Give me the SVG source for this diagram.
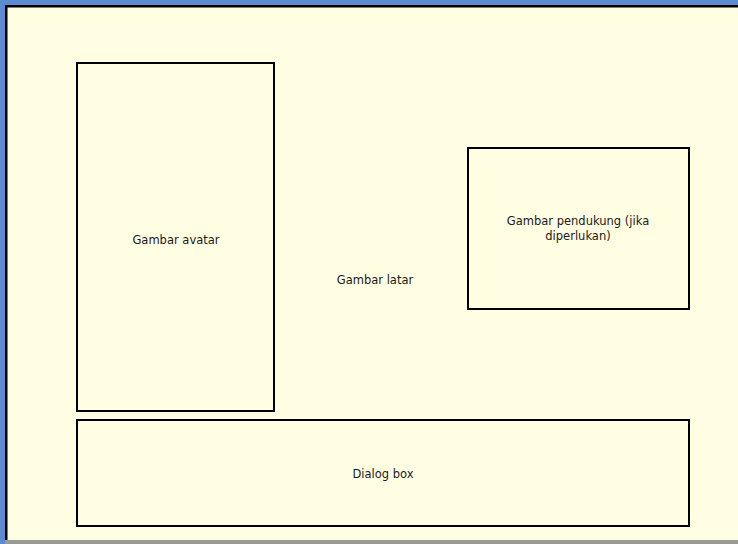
<svg xmlns="http://www.w3.org/2000/svg" width="738" height="544" viewBox="0 0 738 544">
  <style>
    .box { fill: none; stroke: #000; stroke-width: 2; }
    .lbl { font-family: Tahoma, "DejaVu Sans", "Liberation Sans", sans-serif; font-size: 11.5px; fill: #1a1a1a; text-anchor: middle; }
  </style>
  <!-- page background and frame -->
  <rect x="0" y="0" width="738" height="544" fill="#FFFEE3"/>
  <rect x="0" y="0" width="738" height="5" fill="#5B8BD1"/>
  <rect x="0" y="0" width="5" height="544" fill="#5B8BD1"/>
  <rect x="5" y="5" width="733" height="2.5" fill="#000"/>
  <rect x="5" y="5" width="2.5" height="535" fill="#000"/>
  <rect x="5" y="540" width="733" height="4" fill="#9a9a94"/>

  <text class="lbl" x="375" y="284">Gambar latar</text>

  <g id="avatar">
    <rect class="box" x="77" y="63" width="197" height="348"/>
    <text class="lbl" x="176" y="244">Gambar avatar</text>
  </g>

  <g id="pendukung">
    <rect class="box" x="468" y="148" width="221" height="161"/>
    <text class="lbl" x="578" y="225">Gambar pendukung (jika</text>
    <text class="lbl" x="578" y="240">diperlukan)</text>
  </g>

  <g id="dialog">
    <rect class="box" x="77" y="420" width="612" height="106"/>
    <text class="lbl" x="383" y="478">Dialog box</text>
  </g>

  <g id="connectors"></g>
</svg>
